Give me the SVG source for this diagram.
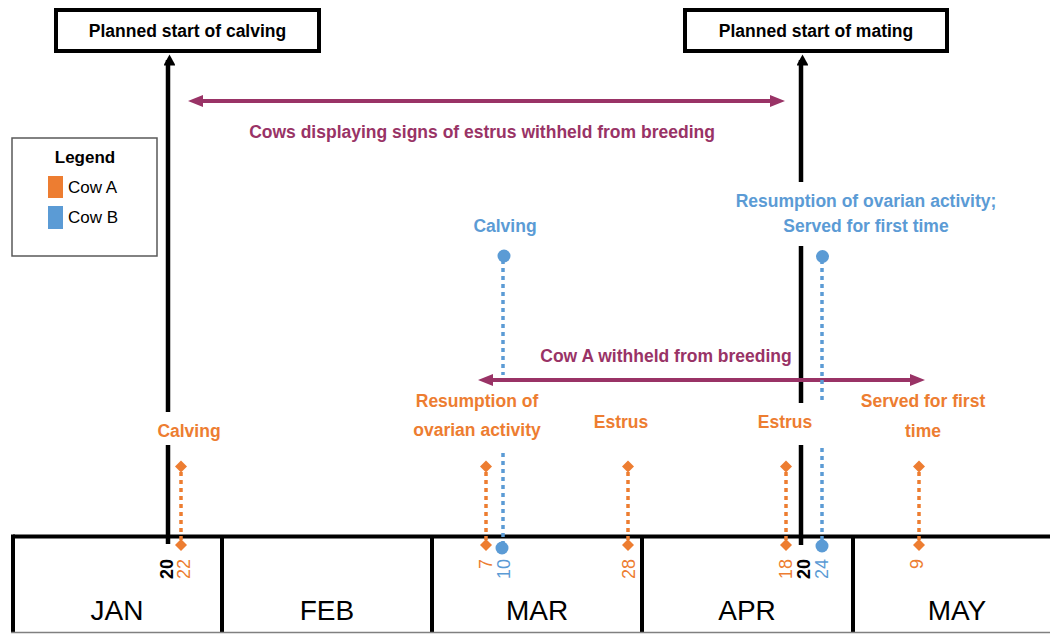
<svg xmlns="http://www.w3.org/2000/svg" width="1050" height="634" viewBox="0 0 1050 634">
<style>
text{font-family:"Liberation Sans",Arial,sans-serif;font-size:17.5px}
.b{font-weight:bold}
.c{text-anchor:middle}
.org{fill:#ED7D31}
.blu{fill:#5B9BD5}
.mag{fill:#993366}
.blk{fill:#000}
.box{fill:#fff;stroke:#000;stroke-width:4}
.grid{stroke:#000;stroke-width:4;fill:none}
.bl{stroke:#000;stroke-width:4.5;fill:none}
.mg{stroke:#993366;stroke-width:4;fill:none}
.od{stroke:#ED7D31;stroke-width:3.5;stroke-dasharray:4 4;fill:none}
.bd{stroke:#5B9BD5;stroke-width:3.5;stroke-dasharray:4 4;fill:none}
.mon{font-size:28px;text-anchor:middle}
.num{text-anchor:end;font-size:18px}
.lg{font-size:17px}
</style>
<defs>
<marker id="ahB" viewBox="0 0 12 11" refX="6" refY="4" markerWidth="12" markerHeight="11" markerUnits="userSpaceOnUse" orient="auto">
<path d="M6,0 L12,11 L0,11 z" fill="#000" transform="rotate(90 6 5.5)"/>
</marker>
<marker id="ahM" viewBox="0 0 15 12" refX="5" refY="6" markerWidth="15" markerHeight="12" markerUnits="userSpaceOnUse" orient="auto-start-reverse">
<path d="M0,0 L15,6 L0,12 z" fill="#993366"/>
</marker>
<path id="dia" d="M0,-6 L6,0 L0,6 L-6,0 z" fill="#ED7D31"/>
</defs>

<g id="timeline-table">
<line class="grid" x1="13" y1="536.5" x2="1050" y2="536.5"/>
<line class="grid" x1="13" y1="534.5" x2="13" y2="633"/>
<line class="grid" x1="222" y1="536" x2="222" y2="633"/>
<line class="grid" x1="432" y1="536" x2="432" y2="633"/>
<line class="grid" x1="642" y1="536" x2="642" y2="633"/>
<line class="grid" x1="853" y1="536" x2="853" y2="633"/>
<line x1="11" y1="632.5" x2="1050" y2="632.5" stroke="#808080" stroke-width="1.5"/>
<text class="mon" x="117" y="620">JAN</text>
<text class="mon" x="327" y="620">FEB</text>
<text class="mon" x="537" y="620">MAR</text>
<text class="mon" x="747" y="620">APR</text>
<text class="mon" x="957" y="620">MAY</text>
</g>

<g id="connectors">
<line class="bl" x1="168" y1="544" x2="168" y2="445"/>
<line class="bl" x1="168" y1="412" x2="168" y2="60" marker-end="url(#ahB)"/>
<line class="bl" x1="801" y1="545" x2="801" y2="445"/>
<line class="bl" x1="801" y1="403" x2="801" y2="246"/>
<line class="bl" x1="801" y1="182" x2="801" y2="60" marker-end="url(#ahB)"/>
<line class="mg" x1="198" y1="101" x2="775" y2="101" marker-start="url(#ahM)" marker-end="url(#ahM)"/>
<line class="mg" x1="488" y1="380" x2="915" y2="380" marker-start="url(#ahM)" marker-end="url(#ahM)"/>
<line class="bd" x1="503" y1="260" x2="503" y2="375"/>
<line class="bd" x1="503" y1="453" x2="503" y2="543"/>
<line class="bd" x1="822" y1="260" x2="822" y2="404"/>
<line class="bd" x1="822" y1="448" x2="822" y2="541"/>
<line class="od" x1="181" y1="472" x2="181" y2="540"/>
<line class="od" x1="486" y1="472" x2="486" y2="540"/>
<line class="od" x1="628" y1="472" x2="628" y2="540"/>
<line class="od" x1="786" y1="472" x2="786" y2="540"/>
<line class="od" x1="919" y1="472" x2="919" y2="540"/>
</g>

<g id="box-calving">
<rect class="box" x="56" y="10" width="263" height="41"/>
<text class="b c" x="187.5" y="37">Planned start of calving</text>
</g>
<g id="box-mating">
<rect class="box" x="685" y="10" width="262" height="41"/>
<text class="b c" x="816" y="37">Planned start of mating</text>
</g>

<g id="label-withheld-all">
<text class="b c mag" x="482" y="138">Cows displaying signs of estrus withheld from breeding</text>
</g>
<g id="label-withheld-a">
<text class="b c mag" x="666" y="362">Cow A withheld from breeding</text>
</g>

<g id="legend">
<rect x="12" y="138" width="145" height="118" fill="#fff" stroke="#595959" stroke-width="1.5"/>
<text class="b c lg" x="85" y="163">Legend</text>
<rect x="48" y="176" width="15" height="22" fill="#ED7D31"/>
<text class="lg" x="68" y="193">Cow A</text>
<rect x="48" y="206" width="15" height="23" fill="#5B9BD5"/>
<text class="lg" x="68" y="223">Cow B</text>
</g>

<g id="cowB-calving">
<text class="b c blu" x="505" y="232">Calving</text>
<circle cx="504" cy="256" r="6.5" fill="#5B9BD5"/>
<circle cx="502" cy="548" r="6.5" fill="#5B9BD5"/>
</g>
<g id="cowB-served">
<text class="b c blu" x="866" y="207">Resumption of ovarian activity;</text>
<text class="b c blu" x="866" y="232">Served for first time</text>
<circle cx="822.5" cy="256.5" r="6.5" fill="#5B9BD5"/>
<circle cx="822" cy="546" r="6.5" fill="#5B9BD5"/>
</g>

<g id="cowA-calving">
<text class="b c org" x="189" y="437">Calving</text>
<use href="#dia" x="181" y="466.5"/>
<use href="#dia" x="181" y="545"/>
</g>
<g id="cowA-resumption">
<text class="b c org" x="477" y="407">Resumption of</text>
<text class="b c org" x="477" y="436">ovarian activity</text>
<use href="#dia" x="486" y="466.5"/>
<use href="#dia" x="486" y="545"/>
</g>
<g id="cowA-estrus1">
<text class="b c org" x="621" y="428">Estrus</text>
<use href="#dia" x="628" y="466.5"/>
<use href="#dia" x="628" y="545"/>
</g>
<g id="cowA-estrus2">
<text class="b c org" x="785" y="428">Estrus</text>
<use href="#dia" x="786" y="466.5"/>
<use href="#dia" x="786" y="545"/>
</g>
<g id="cowA-served">
<text class="b c org" x="923" y="407">Served for first</text>
<text class="b c org" x="923" y="437">time</text>
<use href="#dia" x="919" y="466.5"/>
<use href="#dia" x="919" y="545"/>
</g>

<g id="day-numbers">
<text class="num b blk" transform="translate(173,559) rotate(-90)">20</text>
<text class="num org" transform="translate(190,559) rotate(-90)">22</text>
<text class="num org" transform="translate(492,559) rotate(-90)">7</text>
<text class="num blu" transform="translate(510,559) rotate(-90)">10</text>
<text class="num org" transform="translate(635,559) rotate(-90)">28</text>
<text class="num org" transform="translate(792,559) rotate(-90)">18</text>
<text class="num b blk" transform="translate(810,559) rotate(-90)">20</text>
<text class="num blu" transform="translate(828,559) rotate(-90)">24</text>
<text class="num org" transform="translate(923,559) rotate(-90)">9</text>
</g>
</svg>
